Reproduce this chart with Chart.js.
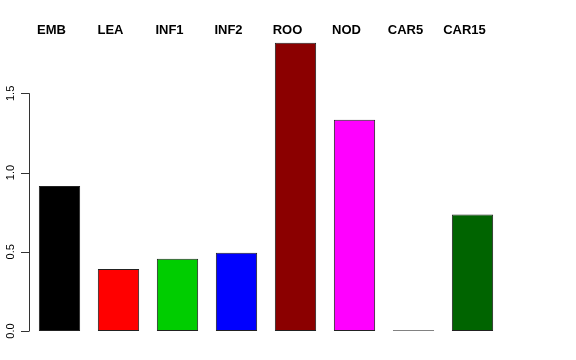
<!DOCTYPE html>
<html>
<head>
<meta charset="utf-8">
<script src="https://cdn.jsdelivr.net/npm/chart.js@4"></script>
<style>
  html, body { margin: 0; padding: 0; background: #fff; }
  #wrap { width: 576px; height: 360px; }
</style>
</head>
<body>
<div id="wrap"><canvas id="chart"></canvas></div>
<script>
// data
const tissues = ['EMB', 'LEA', 'INF1', 'INF2', 'ROO', 'NOD', 'CAR5', 'CAR15'];
const values = [0.916, 0.392, 0.456, 0.494, 1.82, 1.333, 0.004, 0.735];
const barColors = ['#000000', '#ff0000', '#00cd00', '#0000ff', '#8b0000', '#ff00ff', '#bebebe', '#006400'];
const yTicks = [0, 0.5, 1, 1.5];
const yTickLabels = ['0.0', '0.5', '1.0', '1.5'];

// R style axis + labels on top of bars
const rStyle = {
  id: 'rStyle',
  afterDraw(chart) {
    const ctx = chart.ctx;
    const x = chart.scales.x, y = chart.scales.y;
    const axisX = chart.chartArea.left - 1;
    ctx.save();
    ctx.strokeStyle = '#333';
    ctx.lineWidth = 1;
    ctx.beginPath();
    ctx.moveTo(axisX + 0.5, y.getPixelForValue(yTicks[0]));
    ctx.lineTo(axisX + 0.5, y.getPixelForValue(yTicks[yTicks.length - 1]));
    yTicks.forEach(t => {
      const py = Math.round(y.getPixelForValue(t)) + 0.5;
      ctx.moveTo(axisX + 0.5, py);
      ctx.lineTo(axisX - 8, py);
    });
    ctx.stroke();

    ctx.fillStyle = '#000';
    ctx.font = '11px "Liberation Sans", Arial, sans-serif';
    ctx.textAlign = 'center';
    ctx.textBaseline = 'middle';
    yTicks.forEach((t, i) => {
      ctx.save();
      ctx.translate(11, y.getPixelForValue(t));
      ctx.rotate(-Math.PI / 2);
      ctx.fillText(yTickLabels[i], 0, 0);
      ctx.restore();
    });

    ctx.font = 'bold 13px "Liberation Sans", Arial, sans-serif';
    tissues.forEach((name, i) => {
      ctx.fillText(name, x.getPixelForValue(i) - 8, 30);
    });
    ctx.restore();
  }
};

new Chart(document.getElementById('chart'), {
  type: 'bar',
  data: {
    labels: tissues,
    datasets: [{
      data: values,
      backgroundColor: barColors,
      borderColor: '#222',
      borderWidth: 1,
      borderSkipped: false,
      barPercentage: 0.7,
      categoryPercentage: 1
    }]
  },
  options: {
    responsive: true,
    maintainAspectRatio: false,
    animation: false,
    layout: { padding: { left: 30, right: 74, top: 30, bottom: 29 } },
    plugins: { legend: { display: false }, tooltip: { enabled: false } },
    scales: {
      x: { display: false },
      y: { display: false, min: 0, max: 1.9 }
    }
  },
  plugins: [rStyle]
});
</script>
</body>
</html>
